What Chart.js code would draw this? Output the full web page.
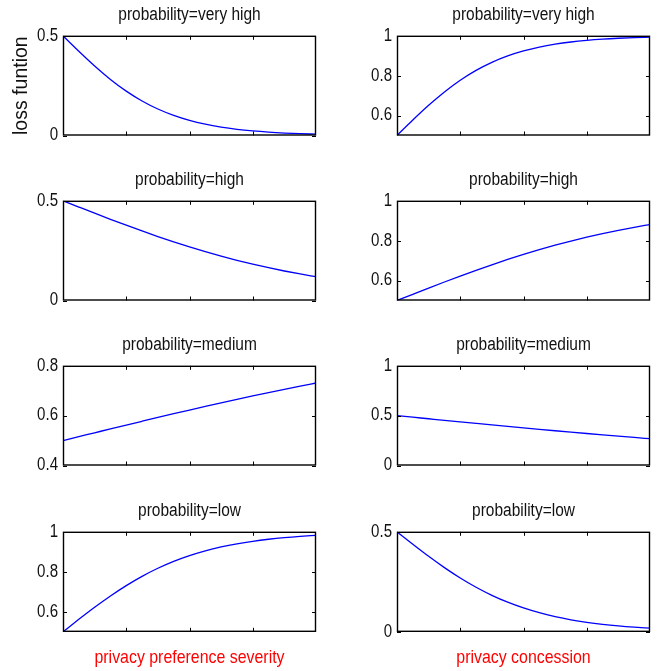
<!DOCTYPE html>
<html><head><meta charset="utf-8">
<script src="https://cdn.jsdelivr.net/npm/chart.js@4.4.1/dist/chart.umd.min.js"></script>
<style>
html,body{margin:0;padding:0;background:#fff;width:668px;height:671px;overflow:hidden;position:relative;}
canvas{position:absolute;}
</style></head><body>
<script>
// ---- data ----
const xValues = [0, 0.0625, 0.125, 0.1875, 0.25, 0.3125, 0.375, 0.4375, 0.5, 0.5625, 0.625, 0.6875, 0.75, 0.8125, 0.875, 0.9375, 1];
const xTickPositions = [0.25, 0.5, 0.75];

const severityVeryHigh   = [0.5, 0.4225, 0.3487, 0.2814, 0.2227, 0.1733, 0.1330, 0.1009, 0.0759, 0.0567, 0.0421, 0.0311, 0.0230, 0.0169, 0.0124, 0.0091, 0.0067];
const concessionVeryHigh = [0.5, 0.5775, 0.6513, 0.7186, 0.7773, 0.8267, 0.8670, 0.8991, 0.9241, 0.9433, 0.9579, 0.9689, 0.9770, 0.9831, 0.9876, 0.9909, 0.9933];
const severityHigh       = [0.5, 0.4688, 0.4378, 0.4073, 0.3775, 0.3487, 0.3208, 0.2942, 0.2689, 0.2451, 0.2227, 0.2018, 0.1824, 0.1645, 0.1480, 0.1330, 0.1192];
const concessionHigh     = [0.5, 0.5312, 0.5622, 0.5927, 0.6225, 0.6513, 0.6792, 0.7058, 0.7311, 0.7549, 0.7773, 0.7982, 0.8176, 0.8355, 0.8520, 0.8670, 0.8808];
const severityMedium     = [0.5, 0.5156, 0.5312, 0.5468, 0.5622, 0.5775, 0.5927, 0.6077, 0.6225, 0.6371, 0.6514, 0.6654, 0.6792, 0.6927, 0.7058, 0.7186, 0.7311];
const concessionMedium   = [0.5, 0.4844, 0.4688, 0.4532, 0.4378, 0.4225, 0.4073, 0.3923, 0.3775, 0.3629, 0.3486, 0.3346, 0.3208, 0.3073, 0.2942, 0.2814, 0.2689];
const severityLow        = [0.5, 0.5622, 0.6225, 0.6792, 0.7311, 0.7773, 0.8176, 0.8520, 0.8808, 0.9047, 0.9241, 0.9399, 0.9526, 0.9627, 0.9707, 0.9770, 0.9820];
const concessionLow      = [0.5, 0.4378, 0.3775, 0.3208, 0.2689, 0.2227, 0.1824, 0.1480, 0.1192, 0.0953, 0.0759, 0.0601, 0.0474, 0.0373, 0.0293, 0.0230, 0.0180];

const panelTitles = ['probability=very high', 'probability=high', 'probability=medium', 'probability=low'];
const xAxisTitles = ['privacy preference severity', 'privacy concession'];
const yAxisTitle = 'loss funtion';

const leftSeries  = [severityVeryHigh, severityHigh, severityMedium, severityLow];
const rightSeries = [concessionVeryHigh, concessionHigh, concessionMedium, concessionLow];
const leftYRange  = [[0, 0.5], [0, 0.5], [0.4, 0.8], [0.5, 1]];
const rightYRange = [[0.5, 1], [0.5, 1], [0, 1], [0, 0.5]];
const leftYTicks  = [[0, 0.5], [0, 0.5], [0.4, 0.6, 0.8], [0.6, 0.8, 1]];
const rightYTicks = [[0.6, 0.8, 1], [0.6, 0.8, 1], [0, 0.5, 1], [0, 0.5]];

// ---- layout ----
const FONT = "'Liberation Sans', Arial, sans-serif";
const TEXT_SQUEEZE = 0.86;
const colX = [63, 397];
const rowY = [36, 201, 366, 532];
const BOX_W = 253, BOX_H = 100;

// narrow (horizontally condensed) rendering of horizontal text, as in the reference
function patchContext(canvas) {
  const ctx = canvas.getContext('2d');
  const orig = ctx.fillText.bind(ctx);
  ctx.fillText = function (text, x, y) {
    const m = this.getTransform();
    if (Math.abs(m.b) > 1e-6 || Math.abs(m.c) > 1e-6) { orig(text, x, y); return; }
    this.save();
    this.translate(x, y);
    this.scale(TEXT_SQUEEZE, 1);
    orig(text, 0, 0);
    this.restore();
  };
}

const framePlugin = {
  id: 'frame',
  afterDraw(chart) {
    const {ctx, chartArea: a, scales: {x, y}} = chart;
    ctx.save();
    ctx.strokeStyle = '#000';
    ctx.lineWidth = 1.4;
    ctx.strokeRect(a.left + 0.5, a.top + 0.5, a.right - a.left - 1, a.bottom - a.top - 1);
    ctx.lineWidth = 1;
    ctx.beginPath();
    xTickPositions.forEach(v => {
      const px = Math.round(x.getPixelForValue(v)) + 0.5;
      ctx.moveTo(px, a.top); ctx.lineTo(px, a.top + 4);
      ctx.moveTo(px, a.bottom); ctx.lineTo(px, a.bottom - 4);
    });
    y.ticks.forEach(t => {
      const py = Math.round(y.getPixelForValue(t.value)) + 0.5;
      ctx.moveTo(a.left, py); ctx.lineTo(a.left + 4, py);
      ctx.moveTo(a.right, py); ctx.lineTo(a.right - 4, py);
    });
    ctx.stroke();
    ctx.restore();
  }
};

function makeConfig(row, col) {
  const series = col === 0 ? leftSeries[row] : rightSeries[row];
  const range = col === 0 ? leftYRange[row] : rightYRange[row];
  const ticks = col === 0 ? leftYTicks[row] : rightYTicks[row];
  const isBottom = row === 3;
  const showYTitle = row === 0 && col === 0;
  return {
    type: 'line',
    data: {
      datasets: [{
        data: xValues.map((x, i) => ({x: x, y: series[i]})),
        borderColor: '#0000ff',
        borderWidth: 1.3,
        pointRadius: 0,
        fill: false,
        cubicInterpolationMode: 'monotone'
      }]
    },
    options: {
      responsive: false,
      maintainAspectRatio: false,
      animation: false,
      devicePixelRatio: 1,
      layout: {padding: {left: 0, right: 10, top: 0, bottom: isBottom ? 0 : 12}},
      plugins: {
        legend: {display: false},
        tooltip: {enabled: false},
        title: {
          display: true, text: panelTitles[row], color: '#111',
          fullSize: false,
          font: {family: FONT, size: 18, weight: 'normal'},
          padding: {top: 4, bottom: 10.2}
        }
      },
      scales: {
        x: {
          type: 'linear', min: 0, max: 1, display: isBottom,
          grid: {display: false, drawTicks: false},
          border: {display: false},
          ticks: {display: false},
          title: {
            display: isBottom, text: xAxisTitles[col], color: '#ff0000',
            font: {family: FONT, size: 18.5, weight: 'normal'},
            padding: {top: 15, bottom: 2}
          }
        },
        y: {
          type: 'linear', min: range[0], max: range[1],
          grid: {display: false, drawTicks: false},
          border: {display: false},
          ticks: {color: '#111', font: {family: FONT, size: 17.5}, padding: 5, callback: v => String(v)},
          afterBuildTicks: s => { s.ticks = ticks.map(v => ({value: v})); },
          afterFit: s => { s.width = 63; },
          title: {
            display: showYTitle, text: yAxisTitle, color: '#111',
            font: {family: FONT, size: 19.5, weight: 'normal'},
            padding: {top: 10.3, bottom: 0}
          }
        }
      }
    },
    plugins: [framePlugin]
  };
}

function makePanel(row, col) {
  const canvas = document.createElement('canvas');
  document.body.appendChild(canvas);
  patchContext(canvas);
  let w = 63 + BOX_W + 10;
  let h = 36 + BOX_H + (row === 3 ? 40 : 12);
  canvas.width = w; canvas.height = h;
  let chart = new Chart(canvas, makeConfig(row, col));
  for (let k = 0; k < 3; k++) {
    const a = chart.chartArea;
    const dw = Math.round(BOX_W - (a.right - a.left));
    const dh = Math.round(BOX_H - (a.bottom - a.top));
    if (!dw && !dh) break;
    chart.destroy();
    w += dw; h += dh;
    canvas.width = w; canvas.height = h;
    chart = new Chart(canvas, makeConfig(row, col));
  }
  const a = chart.chartArea;
  canvas.style.left = Math.round(colX[col] - a.left) + 'px';
  canvas.style.top = Math.round(rowY[row] - a.top) + 'px';
}

for (let r = 0; r < 4; r++) for (let c = 0; c < 2; c++) makePanel(r, c);
</script></body></html>
